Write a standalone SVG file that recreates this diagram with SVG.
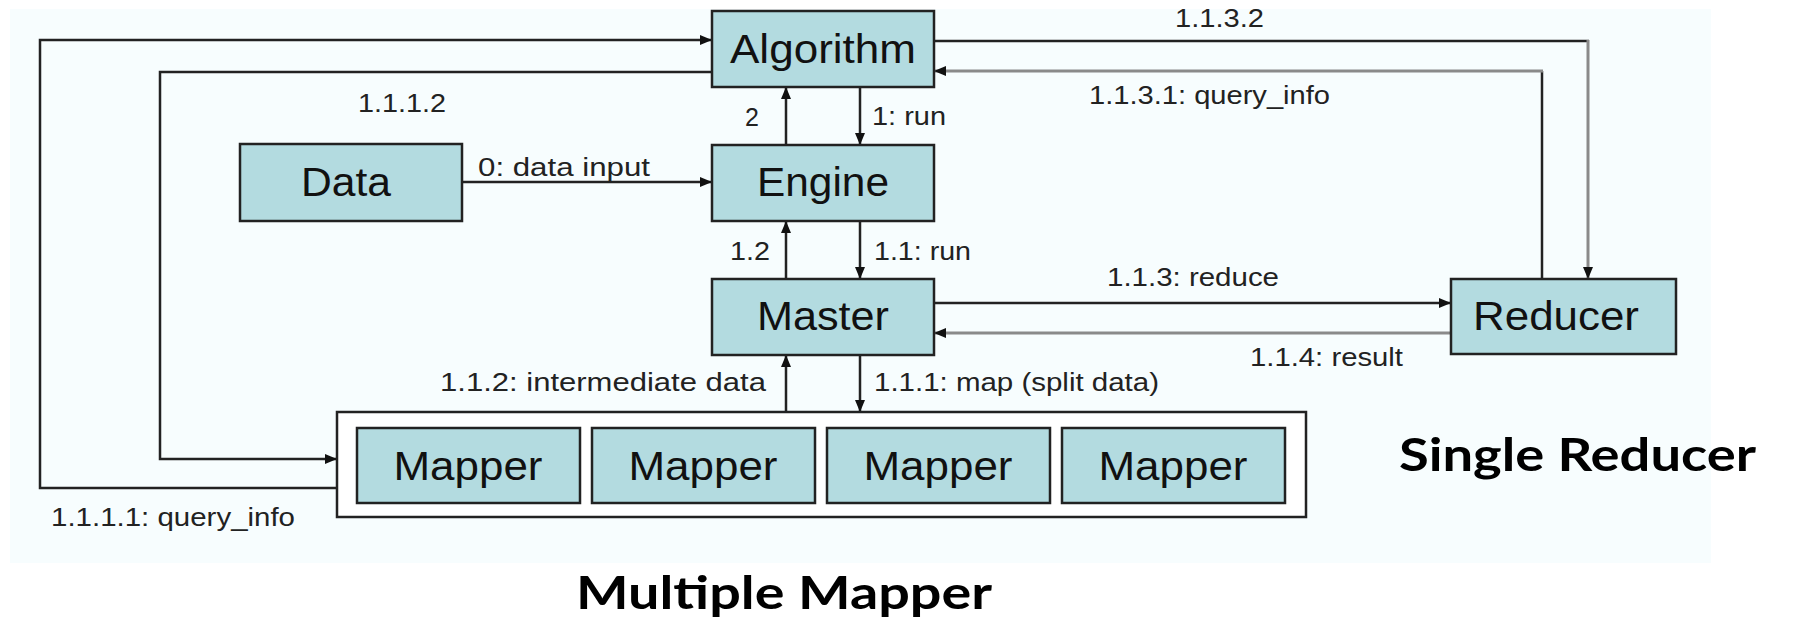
<svg xmlns="http://www.w3.org/2000/svg" width="1793" height="621" viewBox="0 0 1793 621">
<style>
.box{fill:#b3dbe0;stroke:#222;stroke-width:2.5}
.cont{fill:#ffffff;stroke:#222;stroke-width:2.5}
.bl{font-family:"Liberation Sans",Arial,sans-serif;font-size:40px;fill:#111;text-anchor:middle}
.lb{font-family:"Liberation Sans",Arial,sans-serif;font-size:25px;fill:#222}
.ln{fill:none;stroke:#222;stroke-width:2.5}
.lg{fill:none;stroke:#8a8a8a;stroke-width:3}
.big{font-family:Lato,"Open Sans",sans-serif;font-weight:bold;font-size:46px;fill:#000}
</style>
<defs>
<marker id="ah" viewBox="0 0 12 10" refX="12" refY="5" markerWidth="12" markerHeight="10" markerUnits="userSpaceOnUse" orient="auto">
<path d="M0,0 L12,5 L0,10 Z" fill="#111"/>
</marker>
</defs>
<rect x="0" y="0" width="1793" height="621" fill="#ffffff"/>
<rect x="10" y="9" width="1701" height="554" fill="#f7fdfe"/>

<g id="connectors">
<polyline class="ln" points="337,488 40,488 40,40 712,40" marker-end="url(#ah)"/>
<polyline class="ln" points="712,72 160,72 160,459 337,459" marker-end="url(#ah)"/>
<line class="ln" x1="462" y1="182" x2="712" y2="182" marker-end="url(#ah)"/>
<line class="ln" x1="786" y1="145" x2="786" y2="87" marker-end="url(#ah)"/>
<line class="ln" x1="860" y1="87" x2="860" y2="145" marker-end="url(#ah)"/>
<line class="ln" x1="786" y1="279" x2="786" y2="221" marker-end="url(#ah)"/>
<line class="ln" x1="860" y1="221" x2="860" y2="279" marker-end="url(#ah)"/>
<line class="ln" x1="786" y1="412" x2="786" y2="355" marker-end="url(#ah)"/>
<line class="ln" x1="860" y1="355" x2="860" y2="412" marker-end="url(#ah)"/>
<line class="ln" x1="934" y1="303" x2="1451" y2="303" marker-end="url(#ah)"/>
<line class="lg" x1="1451" y1="333" x2="934" y2="333" marker-end="url(#ah)"/>
<line class="ln" x1="1542" y1="279" x2="1542" y2="71"/>
<line class="lg" x1="1543" y1="71" x2="934" y2="71" marker-end="url(#ah)"/>
<line class="ln" x1="934" y1="41" x2="1589" y2="41"/>
<line class="lg" x1="1588" y1="40" x2="1588" y2="279" marker-end="url(#ah)"/>
</g>

<g id="labels">
<text class="lb" x="1175" y="27" textLength="89" lengthAdjust="spacingAndGlyphs">1.1.3.2</text>
<text class="lb" x="1089" y="104" textLength="241" lengthAdjust="spacingAndGlyphs">1.1.3.1: query_info</text>
<text class="lb" x="358" y="112" textLength="88" lengthAdjust="spacingAndGlyphs">1.1.1.2</text>
<text class="lb" x="745" y="126">2</text>
<text class="lb" x="872" y="125" textLength="74" lengthAdjust="spacingAndGlyphs">1: run</text>
<text class="lb" x="478" y="176" textLength="172" lengthAdjust="spacingAndGlyphs">0: data input</text>
<text class="lb" x="730" y="260" textLength="40" lengthAdjust="spacingAndGlyphs">1.2</text>
<text class="lb" x="874" y="260" textLength="97" lengthAdjust="spacingAndGlyphs">1.1: run</text>
<text class="lb" x="1107" y="286" textLength="172" lengthAdjust="spacingAndGlyphs">1.1.3: reduce</text>
<text class="lb" x="1250" y="366" textLength="153" lengthAdjust="spacingAndGlyphs">1.1.4: result</text>
<text class="lb" x="440" y="391" textLength="326" lengthAdjust="spacingAndGlyphs">1.1.2: intermediate data</text>
<text class="lb" x="874" y="391" textLength="285" lengthAdjust="spacingAndGlyphs">1.1.1: map (split data)</text>
<text class="lb" x="51" y="526" textLength="244" lengthAdjust="spacingAndGlyphs">1.1.1.1: query_info</text>
</g>

<g id="node-algorithm"><rect class="box" x="712" y="11" width="222" height="76"/><text class="bl" x="823" y="63" textLength="186" lengthAdjust="spacingAndGlyphs">Algorithm</text></g>
<g id="node-data"><rect class="box" x="240" y="144" width="222" height="77"/><text class="bl" x="346" y="196" textLength="90" lengthAdjust="spacingAndGlyphs">Data</text></g>
<g id="node-engine"><rect class="box" x="712" y="145" width="222" height="76"/><text class="bl" x="823" y="196" textLength="132" lengthAdjust="spacingAndGlyphs">Engine</text></g>
<g id="node-master"><rect class="box" x="712" y="279" width="222" height="76"/><text class="bl" x="823" y="330" textLength="132" lengthAdjust="spacingAndGlyphs">Master</text></g>
<g id="node-reducer"><rect class="box" x="1451" y="279" width="225" height="75"/><text class="bl" x="1556" y="330" textLength="166" lengthAdjust="spacingAndGlyphs">Reducer</text></g>
<g id="node-mappers">
<rect class="cont" x="337" y="412" width="969" height="105"/>
<rect class="box" x="357" y="428" width="223" height="75"/><text class="bl" x="468" y="480" textLength="149" lengthAdjust="spacingAndGlyphs">Mapper</text>
<rect class="box" x="592" y="428" width="223" height="75"/><text class="bl" x="703" y="480" textLength="149" lengthAdjust="spacingAndGlyphs">Mapper</text>
<rect class="box" x="827" y="428" width="223" height="75"/><text class="bl" x="938" y="480" textLength="149" lengthAdjust="spacingAndGlyphs">Mapper</text>
<rect class="box" x="1062" y="428" width="223" height="75"/><text class="bl" x="1173" y="480" textLength="149" lengthAdjust="spacingAndGlyphs">Mapper</text>
</g>
<text class="big" x="576" y="609" textLength="416" lengthAdjust="spacingAndGlyphs">Multiple Mapper</text>
<text class="big" x="1399" y="471" textLength="357" lengthAdjust="spacingAndGlyphs">Single Reducer</text>
</svg>
